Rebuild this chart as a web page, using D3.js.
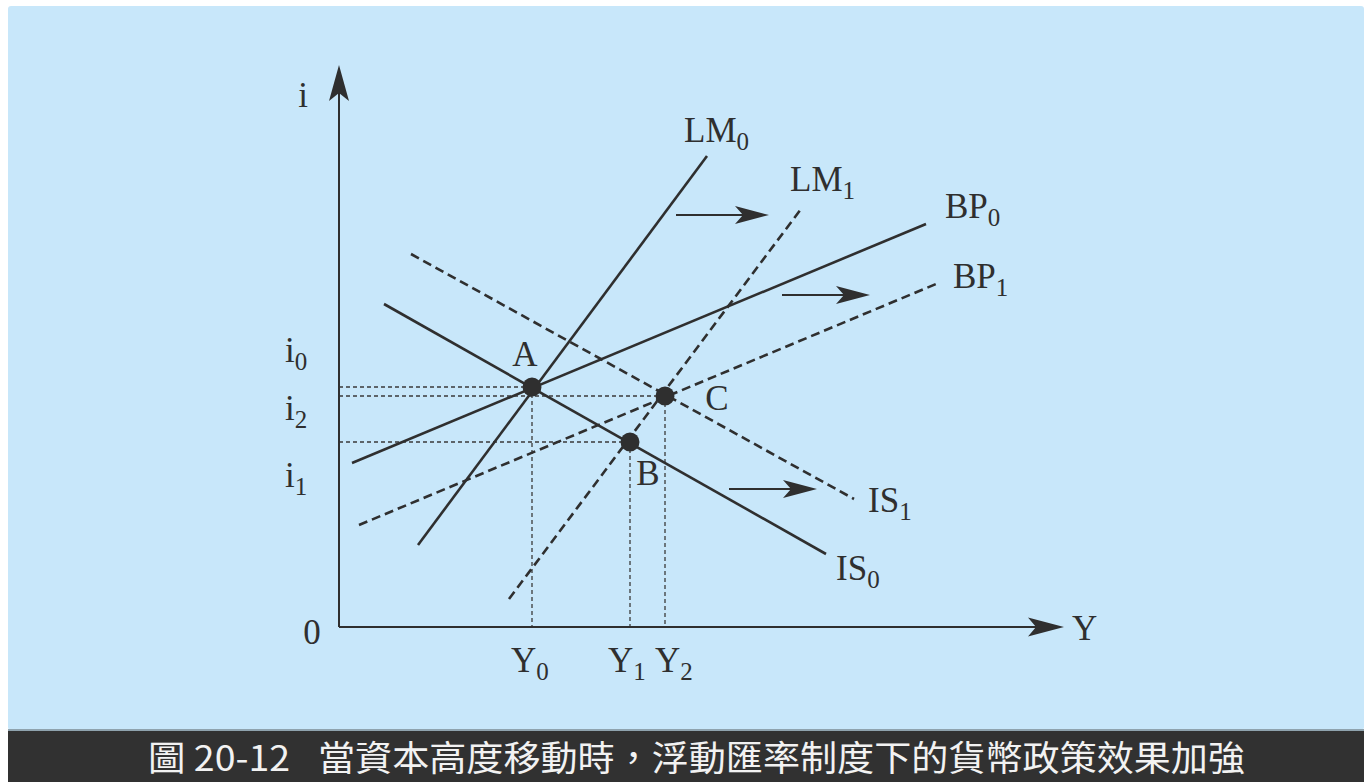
<!DOCTYPE html>
<html>
<head>
<meta charset="utf-8">
<script src="https://cdn.jsdelivr.net/npm/d3@7/dist/d3.min.js"></script>
<style>
  html, body { margin: 0; padding: 0; background: #ffffff; }
  svg { display: block; }
</style>
</head>
<body>
<svg id="chart" width="1364" height="782"></svg>
<script>
// ---------------- DATA (arbitrary units) ----------------
const curveNames = ["LM0", "LM1", "BP0", "BP1", "IS0", "IS1"];
const curveBase  = ["LM", "LM", "BP", "BP", "IS", "IS"];
const curveSub   = ["0", "1", "0", "1", "0", "1"];
const curveDashed = [false, true, false, true, false, true];
// [Y, i] endpoints of each curve
const curveStart = [[79, 82], [170, 28], [13, 164], [20, 102], [45, 323], [72, 373]];
const curveEnd   = [[368, 471], [462, 418], [587, 403], [597, 343], [487, 73], [515, 128]];

const pointNames = ["A", "B", "C"];
const pointY = [193, 291, 326];
const pointI = [240, 185, 231];

const yTickBase = ["Y", "Y", "Y"];
const yTickSub  = ["0", "1", "2"];
const yTickValues = [193, 291, 326];

const iTickBase = ["i", "i", "i"];
const iTickSub  = ["0", "2", "1"];
const iTickValues = [240, 231, 185];

// shift arrows: [Y start, Y end, i level]
const shiftFrom = [337, 443, 390];
const shiftTo   = [430, 531, 478];
const shiftLevel = [412, 332, 138];

const axisMaxY = 725;
const axisMaxI = 562;

const captionFig = "圖 20-12";
const captionText = "當資本高度移動時，浮動匯率制度下的貨幣政策效果加強";

// ---------------- LAYOUT ----------------
const svg = d3.select("#chart");
const W = 1364, H = 782;
const x = d3.scaleLinear().domain([0, axisMaxY]).range([339, 1064]);
const y = d3.scaleLinear().domain([0, axisMaxI]).range([627, 65]);

const ink = "#2f2f2f";
const serif = "'Liberation Serif', 'Times New Roman', serif";
const fs = 35, subFs = 25, subDy = 8;

// background panel
svg.append("rect").attr("x", 8).attr("y", 6).attr("width", W - 8).attr("height", 724)
  .attr("rx", 3).attr("fill", "#c8e7fa");
// caption bar
svg.append("rect").attr("x", 8).attr("y", 729).attr("width", W - 8).attr("height", 2).attr("fill", "#8fa3ae");
svg.append("rect").attr("x", 8).attr("y", 731).attr("width", W - 8).attr("height", 51).attr("fill", "#313131");
const cjk = "'Noto Sans CJK TC', 'Noto Sans CJK SC', sans-serif";
svg.append("text").attr("x", 148).attr("y", 771).attr("fill", "#f2f2f2")
  .attr("font-family", cjk).attr("font-size", 35).attr("textLength", 142).attr("lengthAdjust", "spacingAndGlyphs")
  .text(captionFig);
svg.append("text").attr("x", 318).attr("y", 771).attr("fill", "#f2f2f2")
  .attr("font-family", cjk).attr("font-size", 35).attr("textLength", 927).attr("lengthAdjust", "spacingAndGlyphs")
  .text(captionText);

const g = svg.append("g");

// dotted guide lines
const guides = g.append("g").attr("stroke", "#3a3a3a").attr("stroke-width", 1.3)
  .attr("stroke-dasharray", "4,3").attr("fill", "none");
pointNames.forEach((n, k) => {
  guides.append("line").attr("x1", x(0)).attr("x2", x(pointY[k]))
    .attr("y1", y(pointI[k])).attr("y2", y(pointI[k]));
  guides.append("line").attr("x1", x(pointY[k])).attr("x2", x(pointY[k]))
    .attr("y1", y(pointI[k])).attr("y2", y(0));
});

// axes
function arrowHead(tipX, tipY, dir, len, half, notch) {
  const [dx, dy] = dir;
  const px = -dy, py = dx;
  const bx = tipX - dx * len, by = tipY - dy * len;
  const nx = tipX - dx * (len - notch), ny = tipY - dy * (len - notch);
  return `M${tipX},${tipY}L${bx + px * half},${by + py * half}L${nx},${ny}L${bx - px * half},${by - py * half}Z`;
}
g.append("line").attr("x1", x(0)).attr("y1", y(0)).attr("x2", x(axisMaxY) - 20).attr("y2", y(0))
  .attr("stroke", ink).attr("stroke-width", 2);
g.append("line").attr("x1", x(0)).attr("y1", y(0)).attr("x2", x(0)).attr("y2", y(axisMaxI) + 20)
  .attr("stroke", ink).attr("stroke-width", 2);
g.append("path").attr("d", arrowHead(x(axisMaxY), y(0), [1, 0], 36, 9.5, 8)).attr("fill", ink);
g.append("path").attr("d", arrowHead(x(0), y(axisMaxI), [0, -1], 36, 10, 8)).attr("fill", ink);

// curves
curveNames.forEach((n, k) => {
  g.append("line")
    .attr("x1", x(curveStart[k][0])).attr("y1", y(curveStart[k][1]))
    .attr("x2", x(curveEnd[k][0])).attr("y2", y(curveEnd[k][1]))
    .attr("stroke", ink).attr("stroke-width", 2.6)
    .attr("stroke-dasharray", curveDashed[k] ? "9,5" : null);
});

// shift arrows
shiftFrom.forEach((s, k) => {
  const x1 = x(s), x2 = x(shiftTo[k]), yy = y(shiftLevel[k]);
  g.append("line").attr("x1", x1).attr("x2", x2 - 20).attr("y1", yy).attr("y2", yy)
    .attr("stroke", ink).attr("stroke-width", 2.2);
  g.append("path").attr("d", arrowHead(x2, yy, [1, 0], 34, 9, 8)).attr("fill", ink);
});

// points
pointNames.forEach((n, k) => {
  g.append("circle").attr("cx", x(pointY[k])).attr("cy", y(pointI[k])).attr("r", 9.5).attr("fill", ink);
});

// text helper
function label(px, py, base, sub, anchor) {
  const t = g.append("text").attr("x", px).attr("y", py).attr("fill", ink)
    .attr("font-family", serif).attr("font-size", fs).attr("text-anchor", anchor || "start");
  t.append("tspan").text(base);
  if (sub) t.append("tspan").attr("font-size", subFs).attr("dy", subDy).text(sub);
  return t;
}

// curve labels, placed relative to the curve's upper/right end
const curveLabelOffset = [[-23, -14], [-11, -18], [19, -6], [17, 4], [10, 26], [14, 13]];
curveNames.forEach((n, k) => {
  const endRef = curveEnd[k];
  label(x(endRef[0]) + curveLabelOffset[k][0], y(endRef[1]) + curveLabelOffset[k][1], curveBase[k], curveSub[k]);
});

// axis labels
label(303, 107, "i", null, "middle");
label(1072, 640, "Y", null, "start");
label(312, 644, "0", null, "middle");

// tick labels
const yTickShift = [-21, -22, -10];
yTickValues.forEach((v, k) => {
  label(x(v) + yTickShift[k], 672, yTickBase[k], yTickSub[k]);
});
const iTickBaseline = [362, 420, 487];
iTickValues.forEach((v, k) => {
  label(285, iTickBaseline[k], iTickBase[k], iTickSub[k]);
});

// point labels
const pointLabelOffset = [[-7, -21], [18, 43], [52, 14]];
pointNames.forEach((n, k) => {
  label(x(pointY[k]) + pointLabelOffset[k][0], y(pointI[k]) + pointLabelOffset[k][1], n, null, "middle");
});
</script>
</body>
</html>
